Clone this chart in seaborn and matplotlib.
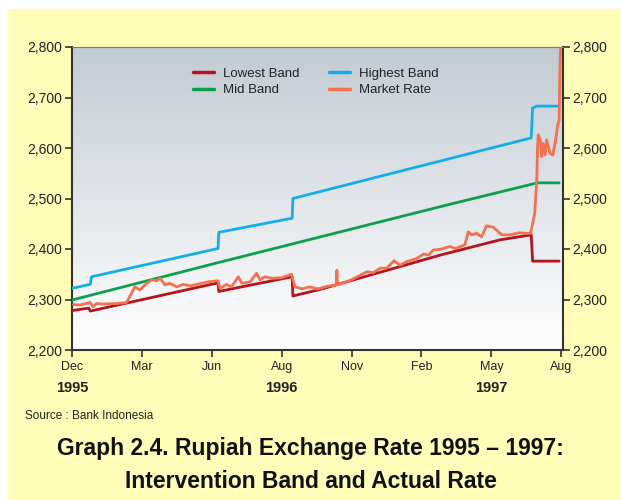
import numpy as np
import pandas as pd
import matplotlib
matplotlib.use("Agg")
import matplotlib.pyplot as plt
import seaborn as sns
from matplotlib.patches import Rectangle
from matplotlib.ticker import FuncFormatter

# data (x in tick periods from Dec 1995)
low_x = [0.00, 0.24, 0.26, 2.09, 2.10, 3.15, 3.16, 3.55, 5.27, 6.12, 6.57, 6.59, 6.97]
low_y = [2278, 2283, 2277, 2333, 2316, 2345, 2307, 2320, 2388, 2418, 2428, 2376, 2376]

mid_x = [0.00, 2.09, 5.39, 6.60, 6.65, 6.97]
mid_y = [2299, 2373, 2488, 2529, 2531, 2531]

high_x = [0.00, 0.26, 0.28, 2.09, 2.10, 3.15, 3.16, 6.57, 6.59, 6.65, 6.97]
high_y = [2322, 2330, 2345, 2401, 2433, 2461, 2500, 2620, 2679, 2683, 2683]

mkt_x = [0.02, 0.11, 0.26, 0.30, 0.35, 0.44, 0.64, 0.78, 0.85, 0.90, 0.97, 1.07, 1.14, 1.21,
         1.26, 1.33, 1.40, 1.50, 1.59, 1.69, 1.76, 1.95, 2.09, 2.12, 2.21, 2.28, 2.38, 2.43,
         2.55, 2.64, 2.69, 2.76, 2.86, 3.00, 3.14, 3.19, 3.29, 3.40, 3.52, 3.62, 3.69, 3.78,
         3.79, 3.80, 3.93, 4.07, 4.22, 4.31, 4.41, 4.50, 4.61, 4.69, 4.79, 4.93, 5.03, 5.10,
         5.17, 5.26, 5.41, 5.48, 5.62, 5.67, 5.72, 5.79, 5.86, 5.93, 6.03, 6.10, 6.15, 6.27,
         6.39, 6.51, 6.56, 6.59, 6.62, 6.65, 6.66, 6.67, 6.70, 6.72, 6.74, 6.77, 6.79, 6.84,
         6.88, 6.92, 6.95, 6.97, 6.98, 6.99]
mkt_y = [2290, 2289, 2294, 2286, 2292, 2291, 2292, 2294, 2312, 2325, 2319, 2332, 2339, 2337,
         2342, 2329, 2332, 2325, 2330, 2327, 2329, 2335, 2337, 2322, 2330, 2325, 2345, 2332,
         2335, 2352, 2339, 2345, 2342, 2343, 2350, 2325, 2321, 2325, 2321, 2325, 2327, 2329,
         2358, 2329, 2335, 2344, 2355, 2353, 2362, 2362, 2377, 2368, 2375, 2381, 2390, 2388,
         2398, 2399, 2405, 2401, 2408, 2434, 2428, 2431, 2424, 2446, 2443, 2434, 2428, 2428,
         2432, 2431, 2431, 2450, 2470, 2537, 2596, 2626, 2616, 2583, 2609, 2586, 2616, 2589,
         2586, 2616, 2646, 2655, 2748, 2797]

month_labels = ["Dec", "Mar", "Jun", "Aug", "Nov", "Feb", "May", "Aug"]
year_labels = [("1995", 0), ("1996", 3), ("1997", 6)]
y_ticks = [2200, 2300, 2400, 2500, 2600, 2700, 2800]

series = [
    ("Lowest Band", low_x, low_y, "#B3141E"),
    ("Mid Band", mid_x, mid_y, "#0AA14E"),
    ("Highest Band", high_x, high_y, "#12AEEA"),
    ("Market Rate", mkt_x, mkt_y, "#F4704F"),
]

sns.set_style("ticks")
plt.rcParams["font.family"] = ["Liberation Sans", "DejaVu Sans"]

fig = plt.figure(figsize=(6.21, 5.0), dpi=100, facecolor="white")
fig.patches.append(Rectangle((8 / 621, 0), 1 - 8 / 621, 1 - 9 / 500, transform=fig.transFigure,
                             facecolor="#FFFDB8", edgecolor="none", zorder=-10))

ax = fig.add_axes([72 / 621, 0.30, 491 / 621, 0.606])

# grey (top) to white (bottom) gradient background
grad = np.linspace(0, 1, 256).reshape(-1, 1)
cmap = matplotlib.colors.LinearSegmentedColormap.from_list("bg", ["#C3CBD3", "#FFFFFF"])
ax.imshow(grad, cmap=cmap, aspect="auto", origin="upper",
          extent=[0, 7.025, 2200, 2800], zorder=0)

for name, xs, ys, col in series:
    df = pd.DataFrame({"x": xs, "y": ys})
    sns.lineplot(data=df, x="x", y="y", ax=ax, color=col, lw=2.0, label=name,
                 estimator=None, sort=False, zorder=3)

ax.set_xlim(0, 7.025)
ax.set_ylim(2200, 2800)
ax.set_xlabel("")
ax.set_ylabel("")

ax.set_xticks(range(8))
ax.set_xticklabels(month_labels, fontsize=9, color="#222222")
ax.set_yticks(y_ticks)
ax.yaxis.set_major_formatter(FuncFormatter(lambda v, p: f"{v:,.0f}"))
ax.tick_params(axis="y", left=True, right=True, labelleft=True, labelright=True,
               labelsize=10, length=5, width=1.2, color="#333333", labelcolor="#222222", pad=2)
ax.tick_params(axis="x", length=5, width=1.2, color="#333333", pad=3)

for side in ["left", "right", "bottom"]:
    ax.spines[side].set_visible(True)
    ax.spines[side].set_color("#333333")
    ax.spines[side].set_linewidth(1.5)
ax.spines["top"].set_visible(True)
ax.spines["top"].set_color("#777777")
ax.spines["top"].set_linewidth(0.8)

for yr, pos in year_labels:
    ax.text(pos, -0.126, yr, transform=ax.get_xaxis_transform(), ha="center", va="center",
            fontsize=10.5, fontweight="bold", color="#222222")

leg = ax.legend(ncol=2, loc="upper left", bbox_to_anchor=(0.235, 0.949), frameon=False,
                fontsize=9.5, handlelength=1.6, handletextpad=0.7, columnspacing=2.2,
                labelspacing=0.3, borderaxespad=0)
for line in leg.get_lines():
    line.set_linewidth(2.5)
for t in leg.get_texts():
    t.set_color("#222222")

fig.text(25 / 621, 1 - 416 / 500, "Source : Bank Indonesia", fontsize=8.5,
         ha="left", va="center", color="#222222")
fig.text(0.5, 1 - 449 / 500, "Graph 2.4. Rupiah Exchange Rate 1995 \u2013 1997:", fontsize=16.5,
         fontweight="bold", ha="center", va="center", color="#111111")
fig.text(0.5, 1 - 481 / 500, "Intervention Band and Actual Rate", fontsize=16.5,
         fontweight="bold", ha="center", va="center", color="#111111")

fig.savefig("out.png", dpi=100, facecolor="white")
